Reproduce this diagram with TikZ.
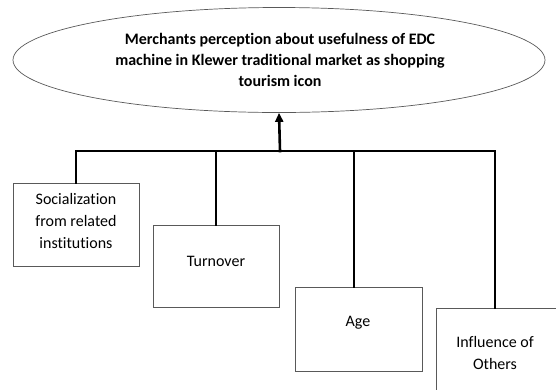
\documentclass[tikz,border=0pt]{standalone}
\usepackage{fontspec}
\setmainfont[Ligatures=NoCommon]{Carlito}
\usetikzlibrary{shapes.geometric,arrows.meta}
\begin{document}
\begin{tikzpicture}[x=1pt,y=-1pt,
  goalshape/.style={ellipse,draw=black!65,line width=0.7pt,inner sep=0pt,
    minimum width=532pt,minimum height=105pt},
  factorbox/.style={draw=black!65,line width=0.8pt,inner sep=0pt,anchor=north west},
  boxtext/.style={align=center,font=\fontsize{16}{22}\selectfont,inner sep=0pt},
  conn/.style={line width=2.6pt,line cap=rect},
  tip/.style={-{Triangle[length=9pt,width=8pt]}}]
\useasboundingbox (0,0) rectangle (556,389);
\clip (0,0) rectangle (556,389);
% goal ellipse
\node[goalshape] (goal) at (279,60) {};
\node[boxtext,font=\bfseries\fontsize{16}{21}\selectfont] (goaltext) at (280,59.5)
  {Merchants perception about usefulness of EDC\\machine in Klewer traditional market as shopping\\tourism icon};
% factor boxes
\node[factorbox,minimum width=126pt,minimum height=83pt] (soc) at (13,183) {};
\node[factorbox,minimum width=126pt,minimum height=82pt] (turn) at (153,225) {};
\node[factorbox,minimum width=127pt,minimum height=84pt] (age) at (295,287) {};
\node[factorbox,minimum width=140pt,minimum height=100pt] (oth) at (436,308) {};
% texts
\node[boxtext] (soctext) at (76,221) {Socialization\\from related\\institutions};
\node[boxtext] (turntext) at (216,261) {Turnover};
\node[boxtext] (agetext) at (358,323) {Age};
\node[boxtext] (othtext) at (495,353) {Influence of\\Others};
% connectors
\coordinate (bar) at (280,151);
\coordinate (socj) at (76,0);
\coordinate (turnj) at (216,0);
\coordinate (agej) at (354,0);
\coordinate (othj) at (495,0);
\draw[conn] (socj |- soc.north) -- (socj |- bar) -- (othj |- bar) -- (othj |- oth.north);
\draw[conn] (turnj |- turn.north) -- (turnj |- bar);
\draw[conn] (agej |- age.north) -- (agej |- bar);
\draw[conn,tip] (bar) -- (goal.south);
\end{tikzpicture}
\end{document}
